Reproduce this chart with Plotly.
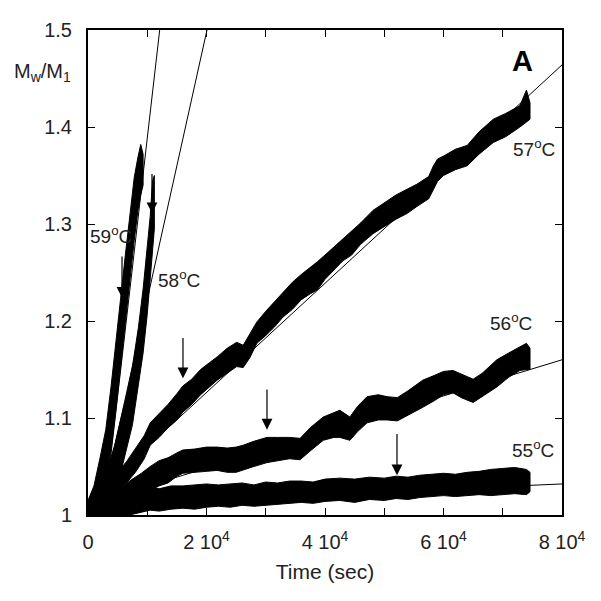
import plotly.graph_objects as go

# ---------------- data ----------------
# noisy measured bands: time (s), lower envelope, upper envelope of Mw/M1
t59 = [0, 1000, 2000, 3000, 3900, 4700, 5500, 6300, 7100, 7800, 8400, 8900, 9300]
lo59 = [1.000, 1.000, 1.005, 1.030, 1.068, 1.108, 1.152, 1.197, 1.243, 1.283, 1.313, 1.330, 1.340]
hi59 = [1.015, 1.030, 1.058, 1.088, 1.133, 1.175, 1.223, 1.268, 1.313, 1.348, 1.368, 1.382, 1.372]

t58 = [1000, 2500, 3500, 4500, 5500, 6500, 7500, 8500, 9300, 10000, 10500, 10900, 11200]
lo58 = [1.000, 1.000, 1.010, 1.025, 1.043, 1.068, 1.093, 1.132, 1.167, 1.207, 1.242, 1.273, 1.295]
hi58 = [1.018, 1.035, 1.052, 1.072, 1.098, 1.123, 1.153, 1.193, 1.233, 1.273, 1.308, 1.345, 1.350]

t57 = [1500, 3000, 4000, 5000, 6500, 8000, 9500, 10500, 12000, 13500, 15000, 16000, 17500, 19000,
       20500, 21800, 23500, 25100, 26200, 27300, 28500, 30000, 31500, 32900, 34500, 36000,
       37500, 38700, 40000, 41500, 43000, 44500, 46000, 48100, 50000, 52000, 53900, 55500,
       57500, 58300, 59000, 60000, 62000, 64000, 66000, 68400, 70500, 72900, 74000, 74600]
lo57 = [1.000, 1.000, 1.010, 1.024, 1.033, 1.044, 1.058, 1.072, 1.080, 1.090, 1.098, 1.106, 1.114, 1.124,
        1.132, 1.139, 1.146, 1.153, 1.152, 1.162, 1.177, 1.185, 1.194, 1.204, 1.212, 1.222,
        1.228, 1.232, 1.243, 1.252, 1.262, 1.268, 1.279, 1.290, 1.297, 1.305, 1.311, 1.318,
        1.326, 1.336, 1.344, 1.350, 1.356, 1.360, 1.372, 1.384, 1.390, 1.400, 1.405, 1.408]
hi57 = [1.012, 1.018, 1.032, 1.044, 1.055, 1.069, 1.082, 1.095, 1.104, 1.114, 1.125, 1.133, 1.140, 1.150,
        1.157, 1.163, 1.172, 1.178, 1.175, 1.186, 1.199, 1.210, 1.220, 1.229, 1.240, 1.248,
        1.255, 1.261, 1.268, 1.276, 1.285, 1.293, 1.301, 1.314, 1.322, 1.330, 1.336, 1.341,
        1.349, 1.360, 1.367, 1.370, 1.377, 1.381, 1.395, 1.408, 1.414, 1.422, 1.438, 1.425]

t56 = [1000, 3000, 5000, 7000, 9000, 10500, 12000, 13500, 15000, 16000, 18000, 20000, 21800, 23500,
       25000, 26200, 28000, 30200, 32000, 34000, 35800, 37500, 39700, 41500, 42500, 44200,
       45500, 47100, 49000, 50500, 52200, 54000, 56500, 58500, 60000, 61600, 63000, 65000,
       66500, 69000, 71000, 72900, 74000, 74600]
lo56 = [1.000, 1.000, 1.005, 1.012, 1.020, 1.026, 1.030, 1.033, 1.040, 1.043, 1.044, 1.045, 1.046, 1.044,
        1.044, 1.046, 1.050, 1.054, 1.056, 1.058, 1.057, 1.066, 1.077, 1.080, 1.080, 1.077,
        1.086, 1.095, 1.098, 1.098, 1.097, 1.103, 1.111, 1.118, 1.124, 1.126, 1.121, 1.116,
        1.122, 1.132, 1.142, 1.149, 1.150, 1.150]
hi56 = [1.010, 1.014, 1.025, 1.035, 1.043, 1.050, 1.056, 1.059, 1.064, 1.067, 1.068, 1.070, 1.070, 1.069,
        1.070, 1.072, 1.076, 1.080, 1.080, 1.080, 1.079, 1.090, 1.101, 1.106, 1.108, 1.101,
        1.112, 1.122, 1.124, 1.122, 1.121, 1.128, 1.139, 1.144, 1.148, 1.149, 1.145, 1.140,
        1.146, 1.160, 1.167, 1.173, 1.177, 1.172]

t55 = [2000, 5000, 7000, 9000, 10500, 12000, 14000, 16000, 18000, 20000, 22000, 24000, 26000, 28000,
       30000, 32000, 34000, 36000, 38000, 40000, 42500, 45000, 47500, 50000, 52000, 54000,
       56000, 58000, 60000, 62000, 64000, 66000, 68000, 70000, 72000, 74000, 74600]
lo55 = [1.000, 1.000, 1.000, 1.003, 1.005, 1.004, 1.006, 1.007, 1.006, 1.008, 1.009, 1.008, 1.010, 1.009,
        1.010, 1.011, 1.012, 1.013, 1.012, 1.014, 1.015, 1.013, 1.016, 1.015, 1.017, 1.016,
        1.018, 1.019, 1.020, 1.019, 1.020, 1.021, 1.020, 1.021, 1.022, 1.021, 1.024]
hi55 = [1.010, 1.015, 1.022, 1.027, 1.030, 1.027, 1.030, 1.030, 1.031, 1.032, 1.031, 1.032, 1.033, 1.031,
        1.034, 1.033, 1.035, 1.035, 1.034, 1.037, 1.038, 1.037, 1.039, 1.038, 1.040, 1.039,
        1.041, 1.042, 1.043, 1.042, 1.044, 1.045, 1.047, 1.048, 1.049, 1.047, 1.044]

bands = [(t59, lo59, hi59), (t58, lo58, hi58), (t57, lo57, hi57), (t56, lo56, hi56), (t55, lo55, hi55)]

# linear fits: (x start, x end), (y start, y end)
fit_x = [[2700, 12100], [1940, 20080], [2000, 80000], [8000, 80000], [8000, 80000]]
fit_y = [[1.000, 1.500], [1.000, 1.500], [1.025, 1.464], [1.026, 1.160], [1.013, 1.032]]

# arrows: x, tip y, tail y
arrow_x = [5740, 10800, 16030, 30210, 52150]
arrow_tip = [1.224, 1.311, 1.141, 1.088, 1.041]
arrow_tail = [1.268, 1.353, 1.184, 1.131, 1.085]

# temperature labels
temps = ["59", "58", "57", "56", "55"]
label_x = [3880, 15360, 75290, 71400, 75120]
label_y = [1.289, 1.243, 1.378, 1.199, 1.068]

x_ticks = [0, 10000, 20000, 30000, 40000, 50000, 60000, 70000, 80000]
x_ticktext = ["0", "", "2 10<sup>4</sup>", "", "4 10<sup>4</sup>", "", "6 10<sup>4</sup>", "", "8 10<sup>4</sup>"]
y_ticks = [1.0, 1.1, 1.2, 1.3, 1.4, 1.5]
y_ticktext = ["1", "1.1", "1.2", "1.3", "1.4", "1.5"]

# ---------------- figure ----------------
FONT = "Liberation Sans, Arial, sans-serif"
fig = go.Figure()

for t, lo, hi in bands:
    fig.add_trace(go.Scatter(
        x=list(t) + list(t)[::-1], y=list(hi) + list(lo)[::-1],
        fill="toself", fillcolor="black", mode="lines",
        line=dict(color="black", width=1), hoverinfo="skip", showlegend=False))

for fx, fy in zip(fit_x, fit_y):
    fig.add_trace(go.Scatter(x=fx, y=fy, mode="lines",
                             line=dict(color="black", width=1), showlegend=False))

for ax_, tip, tail in zip(arrow_x, arrow_tip, arrow_tail):
    fig.add_annotation(x=ax_, y=tip, ax=ax_, ay=tail, xref="x", yref="y",
                       axref="x", ayref="y", showarrow=True, arrowhead=2,
                       arrowsize=1.8, arrowwidth=1.2, arrowcolor="black", text="")

for tp, lx, ly in zip(temps, label_x, label_y):
    fig.add_annotation(x=lx, y=ly, xref="x", yref="y", showarrow=False,
                       text=f"{tp}<sup>o</sup>C", font=dict(family=FONT, size=19, color="#222"))

fig.add_annotation(x=73260, y=1.468, xref="x", yref="y", showarrow=False,
                   text="<b>A</b>", font=dict(family=FONT, size=29, color="black"))
fig.add_annotation(x=-0.097, y=0.913, xref="paper", yref="paper", showarrow=False,
                   xanchor="center", yanchor="middle",
                   text="M<sub>w</sub>/M<sub>1</sub>", font=dict(family=FONT, size=20, color="#222"))

axis_common = dict(showline=True, linecolor="black", linewidth=2, mirror="ticks",
                   ticks="inside", ticklen=7, tickwidth=1.2, tickcolor="black",
                   showgrid=False, zeroline=False,
                   tickfont=dict(family=FONT, size=20, color="#222"))

fig.update_xaxes(range=[0, 80000], tickmode="array", tickvals=x_ticks, ticktext=x_ticktext,
                 title=dict(text="Time (sec)", font=dict(family=FONT, size=21, color="#222"), standoff=12),
                 ticklabelstandoff=8, **axis_common)
fig.update_yaxes(range=[1.0, 1.5], tickmode="array", tickvals=y_ticks, ticktext=y_ticktext,
                 ticklabelstandoff=10, **axis_common)

# page body has an 8 px margin, so the figure is a little smaller and shifted
fig.update_layout(width=593, height=593, margin=dict(l=80, r=39, t=22, b=86),
                  plot_bgcolor="white", paper_bgcolor="white", showlegend=False)

fig.write_html("out.html")
